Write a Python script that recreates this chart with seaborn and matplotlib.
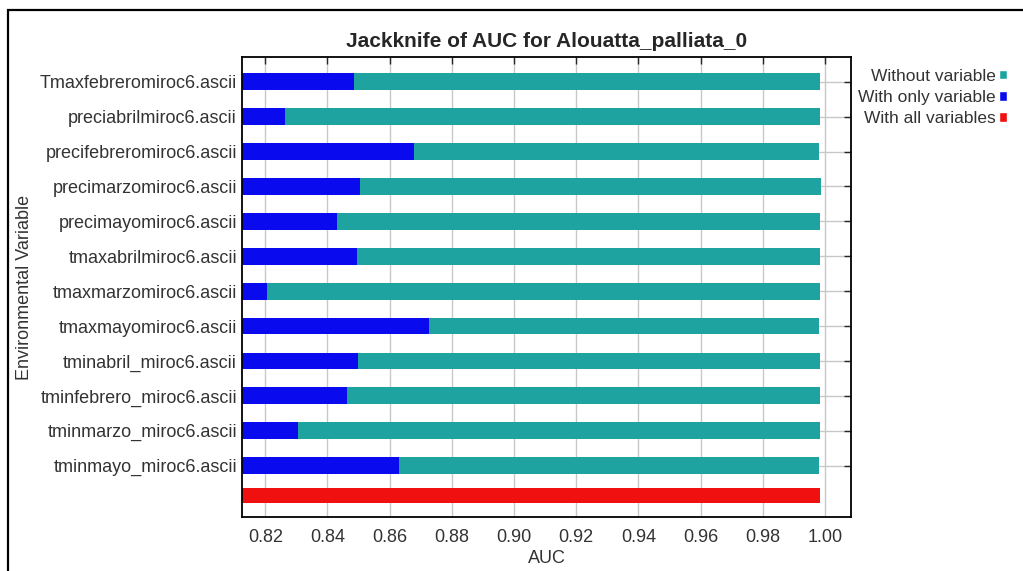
import matplotlib
matplotlib.use("Agg")
import numpy as np
import pandas as pd
import matplotlib.pyplot as plt
import seaborn as sns
from matplotlib.patches import Patch, Rectangle

# Values
variables = [
    "Tmaxfebreromiroc6.ascii",
    "preciabrilmiroc6.ascii",
    "precifebreromiroc6.ascii",
    "precimarzomiroc6.ascii",
    "precimayomiroc6.ascii",
    "tmaxabrilmiroc6.ascii",
    "tmaxmarzomiroc6.ascii",
    "tmaxmayomiroc6.ascii",
    "tminabril_miroc6.ascii",
    "tminfebrero_miroc6.ascii",
    "tminmarzo_miroc6.ascii",
    "tminmayo_miroc6.ascii",
]
auc_without = [0.9984, 0.9984, 0.9980, 0.9988, 0.9984, 0.9984,
               0.9984, 0.9980, 0.9984, 0.9984, 0.9984, 0.9980]
auc_only = [0.8485, 0.8263, 0.8678, 0.8504, 0.8429, 0.8495,
            0.8206, 0.8726, 0.8499, 0.8462, 0.8305, 0.8631]
auc_all = [0.9984]
x_ticks = [0.82, 0.84, 0.86, 0.88, 0.90, 0.92, 0.94, 0.96, 0.98, 1.00]

teal = "#1fa3a0"
blue = "#0a0aee"
red = "#f01010"

# row positions (the "all variables" bar sits a little closer to the last row)
rows = np.arange(len(variables))
all_row = 11.86

df = pd.DataFrame({"variable": variables, "pos": rows,
                   "without": auc_without, "only": auc_only})
df_all = pd.DataFrame({"pos": [all_row], "auc": auc_all})

sns.set_style("white", {"axes.edgecolor": "black"})
plt.rcParams["font.family"] = ["Liberation Sans", "DejaVu Sans"]

fig, ax = plt.subplots(figsize=(10.23, 5.71), dpi=100)
fig.subplots_adjust(left=242 / 1023, right=851 / 1023,
                    top=1 - 57 / 571, bottom=1 - 517 / 571)

bar_w = 0.48
common = dict(orient="y", native_scale=True, saturation=1, errorbar=None,
              linewidth=0, ax=ax)
sns.barplot(data=df, x="without", y="pos", width=bar_w, color=teal, **common)
sns.barplot(data=df, x="only", y="pos", width=bar_w, color=blue, **common)
sns.barplot(data=df_all, x="auc", y="pos", width=bar_w * 0.92, color=red, **common)

ax.set_xlim(0.8125, 1.0084)
ax.set_ylim(12.47, -0.708)
ax.set_xticks(x_ticks)
ax.set_xticklabels([f"{t:.2f}" for t in x_ticks])
ax.set_yticks(rows)
ax.set_yticklabels(variables)

ax.set_axisbelow(True)
ax.grid(True, color="#c8c8c8", linewidth=1)
for s in ax.spines.values():
    s.set_linewidth(1.3)
    s.set_color("black")

ax.tick_params(direction="in", length=5, width=1, top=True, right=True,
               labelsize=13, labelcolor="#333333")
ax.tick_params(axis="x", pad=8.5)
ax.tick_params(axis="y", pad=3.6)

ax.set_title("Jackknife of AUC for Alouatta_palliata_0", fontsize=15,
             fontweight="bold", pad=7)
ax.set_xlabel("AUC", fontsize=13, color="#333333", labelpad=3)
ax.set_ylabel("Environmental Variable", fontsize=13, color="#333333", labelpad=5)

handles = [Patch(facecolor=teal), Patch(facecolor=blue), Patch(facecolor=red)]
labels = ["Without variable", "With only variable", "With all variables"]
fig.legend(handles, labels, loc="upper right", bbox_to_anchor=(1016 / 1023, 1 - 60 / 571),
           frameon=False, markerfirst=False, fontsize=12.5, handlelength=0.5,
           handleheight=0.5, handletextpad=0.15, labelspacing=0.36, borderpad=0,
           labelcolor="#333333")

# outer frame of the original image
fig.add_artist(Rectangle((8 / 1023, -0.1), 1.2, 0.1 + 1 - 10 / 571,
                         transform=fig.transFigure, fill=False,
                         edgecolor="black", linewidth=1.6))

fig.savefig("out.png", dpi=100)
